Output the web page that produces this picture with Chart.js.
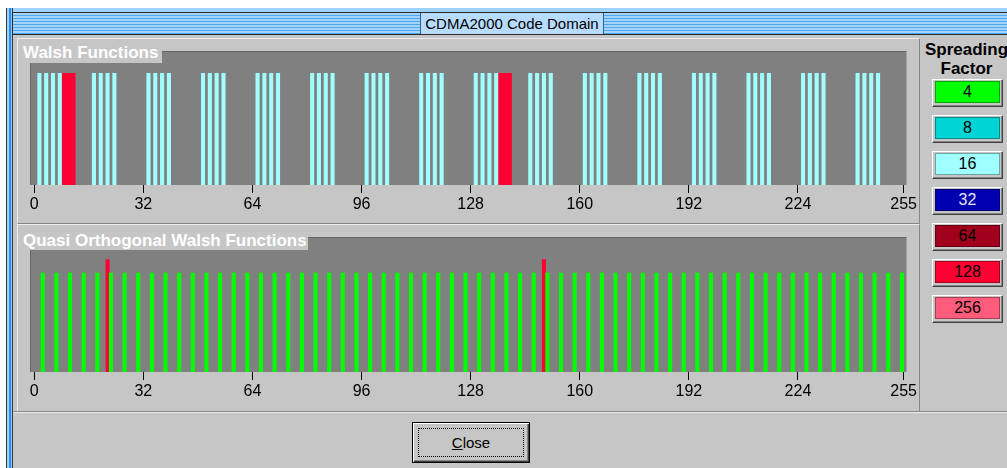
<!DOCTYPE html>
<html>
<head>
<meta charset="utf-8">
<title>CDMA2000 Code Domain</title>
<script src="https://cdn.jsdelivr.net/npm/chart.js@4.4.1/dist/chart.umd.min.js"></script>
<style>
  * { box-sizing: border-box; }
  body {
    margin: 0; width: 1007px; height: 468px; overflow: hidden;
    position: relative; background: #fff;
    font-family: "Liberation Sans", Arial, sans-serif;
  }
  .abs { position: absolute; }
  #winTop { left: 6px; top: 8px; width: 1001px; height: 4px; background: #9fd2fb; }
  #winLeft {
    left: 6px; top: 8px; width: 7px; height: 460px;
    background: linear-gradient(to right, #3a3a3a 0 1px, #9fd2fb 1px 3px, #2f8ce8 3px 5px, #8cc4f4 5px 6px, #3a3a3a 6px 7px);
  }
  #titleBar {
    left: 12px; top: 12px; width: 995px; height: 23px;
    border-top: 1px solid #2a2a2a; border-bottom: 1px solid #2a2a2a; border-left: 1px solid #2a2a2a;
    background: repeating-linear-gradient(to bottom, #a4d3fc 0 2px, #4ea6f2 2px 3px);
  }
  #titleBox {
    left: 420px; top: 13px; width: 184px; height: 21px;
    background: #b8dcff; border-left: 1px solid #30608f; border-right: 1px solid #30608f;
    font-size: 15px; line-height: 21px; text-align: center; color: #000;
  }
  #dlg { left: 13px; top: 35px; width: 994px; height: 433px; background: #c6c6c6; }
  .panel { border-top: 1px solid #ececec; border-left: 1px solid #ececec; border-bottom: 1px solid #858585; border-right: 1px solid #858585; }
  .sep { background: #858585; }
  .sepLight { background: #ececec; }
  .plotLabel {
    background: #c6c6c6; color: #fff; font-weight: bold; font-size: 17px;
    line-height: 20px; padding-left: 3px; white-space: nowrap;
  }
  #sfTitle {
    left: 921px; top: 40px; width: 91px; text-align: center;
    font-weight: bold; font-size: 17px; line-height: 19px; color: #000;
  }
  .sfBtn {
    left: 932px; width: 71px; height: 28px; background: #c6c6c6;
    border-top: 1px solid #fff; border-left: 1px solid #fff;
    border-right: 1px solid #404040; border-bottom: 1px solid #404040;
    box-shadow: inset -1px -1px 0 #858585;
  }
  .sfIn {
    position: absolute; left: 2px; top: 1px; width: 65px; height: 22px;
    border: 1px solid rgba(0,0,0,0.35);
    font-size: 16px; line-height: 20px; text-align: center;
  }
  #closeBtn {
    left: 412px; top: 422px; width: 118px; height: 41px;
    border: 1px solid #000; background: #c6c6c6;
    box-shadow: inset 1px 1px 0 #fff, inset -1px -1px 0 #404040, inset -2px -2px 0 #858585;
    font-size: 15px; line-height: 39px; text-align: center; color: #000;
  }
  #closeFocus { left: 5px; top: 5px; right: 5px; bottom: 5px; border: 1px dotted #000; }
  canvas { position: absolute; }
</style>
</head>
<body>
<div id="winTop" class="abs"></div>
<div id="winLeft" class="abs"></div>
<div id="titleBar" class="abs"></div>
<div id="titleBox" class="abs">CDMA2000 Code Domain</div>
<div id="dlg" class="abs"></div>

<div class="abs panel" style="left:17px;top:38px;width:903px;height:186px"></div>
<div class="abs panel" style="left:17px;top:224px;width:903px;height:188px"></div>
<div class="abs sep" style="left:13px;top:411px;width:994px;height:1px"></div>
<div class="abs sepLight" style="left:13px;top:412px;width:994px;height:1px"></div>

<canvas id="walshChart" width="902" height="178" style="left:17px;top:40px"></canvas>
<canvas id="qofChart" width="902" height="182" style="left:17px;top:226px"></canvas>

<div class="abs plotLabel" style="left:20px;top:43px;width:142px;height:20px">Walsh Functions</div>
<div class="abs plotLabel" style="left:20px;top:231px;width:288px;height:19px">Quasi Orthogonal Walsh Functions</div>

<div id="sfTitle" class="abs">Spreading<br>Factor</div>
<div id="sfLegend"></div>

<div id="closeBtn" class="abs"><div id="closeFocus" class="abs"></div><u>C</u>lose</div>

<script>
// code slots shown on the x axis (0..255)
const slotTicks = [0, 32, 64, 96, 128, 160, 192, 224, 255];

// Walsh Functions: occupied slots and relative levels
const walshSf16Slots = [
  1, 3, 5, 7, 17, 19, 21, 23, 33, 35, 37, 39, 49, 51, 53, 55,
  65, 67, 69, 71, 81, 83, 85, 87, 97, 99, 101, 103, 113, 115, 117, 119,
  129, 131, 133, 135, 145, 147, 149, 151, 161, 163, 165, 167, 177, 179, 181, 183,
  193, 195, 197, 199, 209, 211, 213, 215, 225, 227, 229, 231, 241, 243, 245, 247
];
const walshSf16Levels = [
  1, 1, 1, 1, 1, 1, 1, 1, 1, 1, 1, 1, 1, 1, 1, 1,
  1, 1, 1, 1, 1, 1, 1, 1, 1, 1, 1, 1, 1, 1, 1, 1,
  1, 1, 1, 1, 1, 1, 1, 1, 1, 1, 1, 1, 1, 1, 1, 1,
  1, 1, 1, 1, 1, 1, 1, 1, 1, 1, 1, 1, 1, 1, 1, 1
];
const walshSf128Slots = [8, 9, 10, 11, 136, 137, 138, 139];
const walshSf128Levels = [1, 1, 1, 1, 1, 1, 1, 1];

// Quasi Orthogonal Walsh Functions
const qofSf4Slots = [
  2, 6, 10, 14, 18, 22, 26, 30, 34, 38, 42, 46, 50, 54, 58, 62,
  66, 70, 74, 78, 82, 86, 90, 94, 98, 102, 106, 110, 114, 118, 122, 126,
  130, 134, 138, 142, 146, 150, 154, 158, 162, 166, 170, 174, 178, 182, 186, 190,
  194, 198, 202, 206, 210, 214, 218, 222, 226, 230, 234, 238, 242, 246, 250, 254
];
const qofSf4Levels = [
  0.88, 0.88, 0.88, 0.88, 0.88, 0.88, 0.88, 0.88, 0.88, 0.88, 0.88, 0.88, 0.88, 0.88, 0.88, 0.88,
  0.88, 0.88, 0.88, 0.88, 0.88, 0.88, 0.88, 0.88, 0.88, 0.88, 0.88, 0.88, 0.88, 0.88, 0.88, 0.88,
  0.88, 0.88, 0.88, 0.88, 0.88, 0.88, 0.88, 0.88, 0.88, 0.88, 0.88, 0.88, 0.88, 0.88, 0.88, 0.88,
  0.88, 0.88, 0.88, 0.88, 0.88, 0.88, 0.88, 0.88, 0.88, 0.88, 0.88, 0.88, 0.88, 0.88, 0.88, 0.88
];
const qofSf128Slots = [21, 149];
const qofSf128Levels = [1, 1];

// spreading factor legend
const sfValues = [4, 8, 16, 32, 64, 128, 256];
const sfColors = ["#00ff00", "#00d4d4", "#a0ffff", "#0000b0", "#a0001c", "#ff0033", "#ff5c7c"];
const sfTextColors = ["#000", "#000", "#000", "#e4e4ff", "#000", "#000", "#000"];

const tickFont = { family: '"Liberation Sans", Arial, sans-serif', size: 16 };

// gray plot area with a sunken top/left edge
const plotBg = {
  id: "plotBg",
  beforeDraw(chart) {
    const { ctx, chartArea: a } = chart;
    ctx.save();
    ctx.fillStyle = "#808080";
    ctx.fillRect(a.left, a.top, a.width, a.height);
    ctx.fillStyle = "#656565";
    ctx.fillRect(a.left, a.top, a.width, 1);
    ctx.fillRect(a.left, a.top, 1, a.height);
    ctx.restore();
  },
};

function series(slots, levels, color) {
  return {
    data: slots.map((s, i) => ({ x: s + 0.5, y: levels[i] })), // bar fills slot [s, s+1)
    backgroundColor: color,
    borderWidth: 0,
    grouped: false,
    barPercentage: 1,
    categoryPercentage: 1,
  };
}

function slotChart(id, datasets, padding) {
  return new Chart(document.getElementById(id), {
    type: "bar",
    data: { datasets },
    options: {
      responsive: false,
      animation: false,
      layout: { padding },
      plugins: { legend: { display: false }, tooltip: { enabled: false } },
      scales: {
        x: {
          type: "linear",
          offset: false,
          min: -1.25,
          max: 255.85,
          afterBuildTicks: (scale) => {
            scale.ticks = slotTicks.map((v) => ({ value: v }));
          },
          grid: { offset: false, drawOnChartArea: false, color: "#000", tickLength: 8 },
          border: { display: false },
          ticks: { color: "#000", padding: 2, maxRotation: 0, autoSkip: false, font: tickFont },
        },
        y: { display: false, min: 0, max: 1.2 },
      },
    },
    plugins: [plotBg],
  });
}

document.addEventListener("DOMContentLoaded", () => {
  slotChart("walshChart", [
    series(walshSf16Slots, walshSf16Levels, sfColors[2]),
    series(walshSf128Slots, walshSf128Levels, sfColors[5]),
  ], { left: 13, right: 10.5, top: 11, bottom: 1.8 });

  slotChart("qofChart", [
    series(qofSf4Slots, qofSf4Levels, sfColors[0]),
    series(qofSf128Slots, qofSf128Levels, sfColors[5]),
  ], { left: 13, right: 10.5, top: 11, bottom: 4.8 });

  // Spreading Factor buttons
  const legend = document.getElementById("sfLegend");
  sfValues.forEach((sf, i) => {
    const btn = document.createElement("div");
    btn.className = "abs sfBtn";
    btn.style.top = (79 + i * 36) + "px";
    const inner = document.createElement("div");
    inner.className = "sfIn";
    inner.style.background = sfColors[i];
    inner.style.color = sfTextColors[i];
    inner.textContent = sf;
    btn.appendChild(inner);
    legend.appendChild(btn);
  });
});
</script>
</body>
</html>
